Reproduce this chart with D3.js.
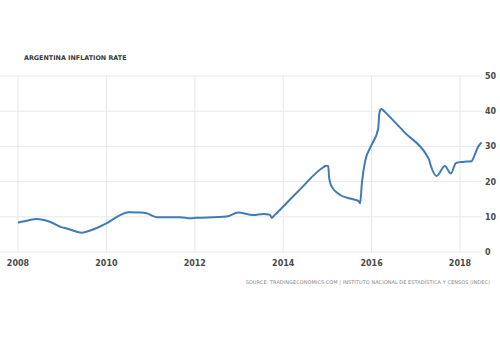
<!DOCTYPE html>
<html><head><meta charset="utf-8">
<script src="https://cdn.jsdelivr.net/npm/d3@7"></script>
<style>body{margin:0;background:#fff}svg{display:block}</style>
</head><body>
<script>
const title = "ARGENTINA INFLATION RATE";
const source = "SOURCE: TRADINGECONOMICS.COM | INSTITUTO NACIONAL DE ESTADÍSTICA Y CENSOS (INDEC)";
const years = [2008,2008.2,2008.42,2008.72,2008.99,2009.10,2009.44,2009.70,2010.0,2010.31,2010.50,2010.76,2010.91,2011.14,2011.67,2011.89,2012.03,2012.72,2012.98,2013.32,2013.55,2013.70,2013.74,2013.80,2014.35,2014.90,2014.97,2015.02,2015.04,2015.10,2015.29,2015.51,2015.70,2015.74,2015.78,2015.85,2016.0,2016.15,2016.17,2016.21,2016.26,2016.30,2016.77,2017.24,2017.30,2017.34,2017.47,2017.66,2017.79,2017.91,2018.07,2018.26,2018.33,2018.41,2018.49];
const values = [8.4,8.9,9.4,8.6,7.0,6.7,5.5,6.4,8.1,10.5,11.3,11.2,11.0,9.9,9.9,9.6,9.7,10.1,11.2,10.5,10.8,10.6,9.7,10.4,17.4,24.0,24.5,24.4,21.0,18.5,16.2,15.2,14.5,13.8,19.5,25.6,30.4,35.1,38.9,40.6,40.3,39.8,33.7,27.6,26.2,24.5,21.6,24.4,22.3,25.3,25.6,25.8,27.5,29.9,31.1];
const xTicks = [2008,2010,2012,2014,2016,2018];
const yTicks = [0,10,20,30,40,50];

const W=500,H=337;
const svg=d3.select("body").append("svg").attr("width",W).attr("height",H);
const x=d3.scaleLinear().domain([2008,2018]).range([18,460]);
const y=d3.scaleLinear().domain([0,50]).range([252,76]);
const gl=0, gr=482;

svg.append("text").attr("x",24).attr("y",60).text(title)
  .attr("font-family","DejaVu Sans").attr("font-size",6.4).attr("font-weight","bold")
  .attr("fill","#3a3a3a");

svg.append("g").selectAll("line").data(yTicks).join("line")
  .attr("x1",gl).attr("x2",gr).attr("y1",d=>y(d)).attr("y2",d=>y(d))
  .attr("stroke","#e8e8e8").attr("stroke-width",1);
svg.append("g").selectAll("line").data(xTicks).join("line")
  .attr("x1",d=>x(d)).attr("x2",d=>x(d)).attr("y1",y(50)).attr("y2",y(0))
  .attr("stroke","#e8e8e8").attr("stroke-width",1);

svg.append("g").selectAll("text").data(xTicks).join("text")
  .attr("x",d=>x(d)).attr("y",266).attr("text-anchor","middle").text(d=>d)
  .attr("font-family","DejaVu Sans").attr("font-size",8).attr("font-weight","bold").attr("fill","#4a4a4a");
svg.append("g").selectAll("text").data(yTicks).join("text")
  .attr("x",485).attr("y",d=>y(d)+3).text(d=>d)
  .attr("font-family","DejaVu Sans").attr("font-size",8).attr("font-weight","bold").attr("fill","#4a4a4a");

const pts=years.map((t,i)=>[t,values[i]]);
svg.append("path").datum(pts)
  .attr("d",d3.line().x(d=>x(d[0])).y(d=>y(d[1])).curve(d3.curveMonotoneX))
  .attr("fill","none").attr("stroke","#3f7bb6").attr("stroke-width",2).attr("stroke-linejoin","round");

svg.append("text").attr("x",490).attr("y",284).attr("text-anchor","end").text(source)
  .attr("font-family","DejaVu Sans").attr("font-size",5).attr("fill","#888").attr("letter-spacing",0.05);
</script>
</body></html>
